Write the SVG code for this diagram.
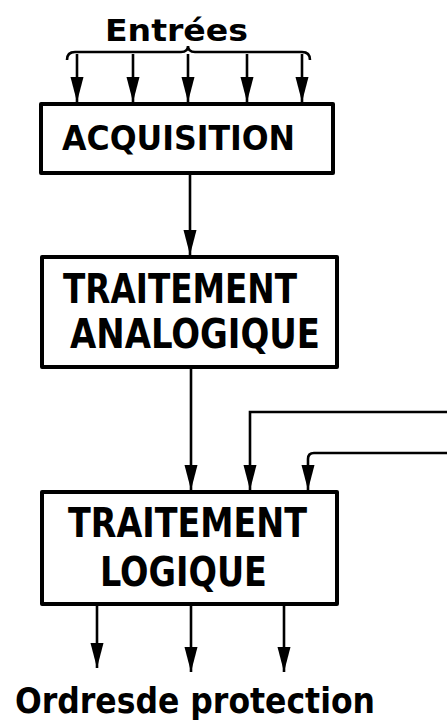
<svg xmlns="http://www.w3.org/2000/svg" width="447" height="725" viewBox="0 0 447 725">
<style>
.box{fill:#fff;stroke:#000;stroke-width:4;stroke-linejoin:round}
.ln{fill:none;stroke:#000;stroke-width:2.6}
.lab{font-family:"DejaVu Sans Condensed","DejaVu Sans",sans-serif;font-weight:bold;fill:#000}
</style>
<defs>
<marker id="ah" viewBox="0 -8 26 16" refX="25" refY="0" markerWidth="26" markerHeight="16" markerUnits="userSpaceOnUse" orient="auto">
<path d="M0,-6.5 L25,0 L0,6.5 z" fill="#000"/>
</marker>
</defs>
<rect width="447" height="725" fill="#fff"/>
<g id="connectors">
<path class="ln" d="M67,60 Q67,52 75,52 L181,52 Q188,52 188,46 Q188,52 195,52 L302,52 Q310,52 310,60"/>
<line class="ln" x1="77" y1="54" x2="77" y2="102" marker-end="url(#ah)"/>
<line class="ln" x1="133" y1="54" x2="133" y2="102" marker-end="url(#ah)"/>
<line class="ln" x1="188" y1="54" x2="188" y2="102" marker-end="url(#ah)"/>
<line class="ln" x1="247" y1="54" x2="247" y2="102" marker-end="url(#ah)"/>
<line class="ln" x1="302" y1="54" x2="302" y2="102" marker-end="url(#ah)"/>
<line class="ln" x1="190" y1="175" x2="190" y2="255" marker-end="url(#ah)"/>
<line class="ln" x1="191" y1="369" x2="191" y2="490" marker-end="url(#ah)"/>
<path class="ln" d="M447,412 L250,412 L250,490" marker-end="url(#ah)"/>
<path class="ln" d="M447,453 L314,453 Q308,453 308,459 L308,490" marker-end="url(#ah)"/>
<line class="ln" x1="97" y1="606" x2="97" y2="668" marker-end="url(#ah)"/>
<line class="ln" x1="191" y1="606" x2="191" y2="672" marker-end="url(#ah)"/>
<line class="ln" x1="284" y1="606" x2="284" y2="672" marker-end="url(#ah)"/>
</g>
<g id="entrees">
<text class="lab" x="105" y="41" font-size="30" textLength="143" lengthAdjust="spacingAndGlyphs">Entrées</text>
</g>
<g id="acquisition">
<rect class="box" x="41" y="104" width="292" height="69"/>
<text class="lab" x="62" y="150" font-size="34" textLength="233" lengthAdjust="spacingAndGlyphs">ACQUISITION</text>
</g>
<g id="traitement-analogique">
<rect class="box" x="42" y="257" width="295" height="110"/>
<text class="lab" x="63" y="303" font-size="40" textLength="234" lengthAdjust="spacingAndGlyphs">TRAITEMENT</text>
<text class="lab" x="70" y="348" font-size="40" textLength="250" lengthAdjust="spacingAndGlyphs">ANALOGIQUE</text>
</g>
<g id="traitement-logique">
<rect class="box" x="42" y="492" width="295" height="112"/>
<text class="lab" x="68" y="537" font-size="40" textLength="239" lengthAdjust="spacingAndGlyphs">TRAITEMENT</text>
<text class="lab" x="100" y="586" font-size="40" textLength="167" lengthAdjust="spacingAndGlyphs">LOGIQUE</text>
</g>
<g id="ordres">
<text class="lab" x="15" y="713" font-size="35" textLength="360" lengthAdjust="spacingAndGlyphs">Ordresde protection</text>
</g>
</svg>
